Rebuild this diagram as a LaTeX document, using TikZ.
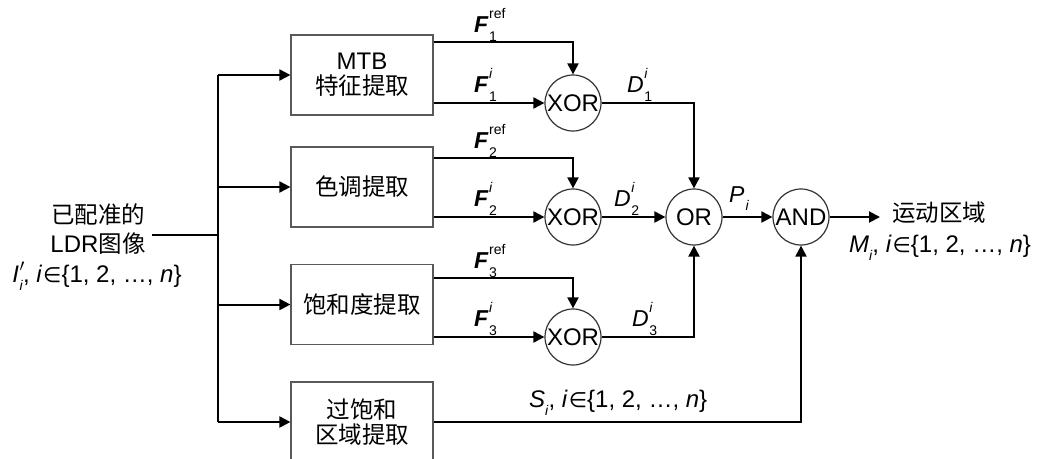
\documentclass[tikz,border=0pt]{standalone}
\usepackage{fontspec}
\setmainfont{Liberation Sans}
\newfontfamily\cjk{Noto Sans CJK SC}
\newfontfamily\sym{DejaVu Sans}
\usetikzlibrary{arrows.meta,calc}
% helpers for the mixed Chinese / formula labels
\newcommand\zh[1]{{\cjk\fontsize{23.5}{26}\selectfont #1}}
\newcommand\scr{\fontsize{14}{14}\selectfont}
\newcommand\lab[3]{#1\kern0.5pt\rlap{\raisebox{0.6em}{\scr #2}}\raisebox{-0.42em}{\scr #3}}
\newcommand\sbi[1]{\raisebox{-0.35em}{\scr\textit{#1}}}
\newcommand\iset{\textit{i}\kern1pt{\sym\fontsize{21}{21}\selectfont ∈}\{1, 2, …, \textit{n}\}}
\newcommand\Fb{\textbf{\textit{F}}}
\begin{document}
\begin{tikzpicture}[x=1pt,y=-1pt,
  txt/.style={inner sep=0pt,font=\fontsize{24}{28}\selectfont},
  lbl/.style={inner sep=0pt,anchor=base west,font=\fontsize{23}{26}\selectfont},
  box/.style={draw=black!65,line width=1.2pt,minimum width=142pt,minimum height=80pt,
              inner sep=0pt,align=center,font=\fontsize{24}{28}\selectfont},
  gate/.style={circle,draw=black!80,line width=1.2pt,minimum size=56pt,inner sep=0pt,
               font=\fontsize{24}{28}\selectfont},
  wire/.style={line width=2pt},
  conn/.style={wire,-{Triangle[length=11pt,width=11pt]}}]
\useasboundingbox (0,0) rectangle (1041,458);

% input images
\node[txt] (t1) at (98,215) {\zh{已配准的}};
\node[txt,anchor=base] (t2) at (98,252) {LDR\zh{图像}};
\node[txt,anchor=base] (t3) at (97,282) {\textit{I}\kern0.5pt\rlap{\raisebox{0.05em}{$'$}}\sbi{i}, \iset};

% extraction stages
\node[box] (b1) at (362,75) {MTB\\[-3pt]\zh{特征提取}};
\node[box] (b2) at (362,187) {\zh{色调提取}};
\node[box] (b3) at (362,304.5) {\zh{饱和度提取}};
\node[box] (b4) at (362,422) {\zh{过饱和}\\[-3pt]\zh{区域提取}};

% logic gates
\node[gate] (x1) at (573,103) {XOR};
\node[gate] (x2) at (573,217) {XOR};
\node[gate] (x3) at (573,337) {XOR};
\node[gate] (or) at (694,217) {OR};
\node[gate] (and) at (801,217) {AND};

% distribution bus
\coordinate (bus) at (218,243);
\coordinate (bt) at (218,75);
\coordinate (bb) at (218,422);
\draw[wire] (t2.east |- bus) ++(6,-8) -- ($(bus)+(0,-8)$);
\draw[wire] (bt) -- (bb);
\foreach \b in {b1,b2,b3,b4}
  \draw[conn] (bt |- \b.west) -- (\b.west);

% reference and current features into the XOR gates
\draw[conn] ($(b1.north east)+(0,8)$) -| (x1);
\draw[conn] ($(b2.north east)+(0,12)$) -| (x2);
\draw[conn] ($(b3.north east)+(0,14)$) -| (x3);
\draw[conn] (b1.east |- x1) -- (x1);
\draw[conn] (b2.east |- x2) -- (x2);
\draw[conn] (b3.east |- x3) -- (x3);

% differences into OR, then AND
\draw[conn] (x1) -| (or);
\draw[conn] (x2) -- (or);
\draw[conn] (x3) -| (or);
\draw[conn] (or) -- (and);
\draw[conn] (b4) -| (and);
\coordinate (out) at (880,217);
\draw[conn] (and) -- (out);

% signal labels
\node[lbl] (f1r) at (474,32) {\lab{\Fb}{ref}{1}};
\node[lbl] (f1i) at (474,92) {\lab{\Fb}{\textit{i}}{1}};
\node[lbl] (f2r) at (474,148) {\lab{\Fb}{ref}{2}};
\node[lbl] (f2i) at (474,206) {\lab{\Fb}{\textit{i}}{2}};
\node[lbl] (f3r) at (474,268) {\lab{\Fb}{ref}{3}};
\node[lbl] (f3i) at (474,326) {\lab{\Fb}{\textit{i}}{3}};
\node[lbl] (d1) at (627,92) {\lab{\textit{D}}{\textit{i}}{1}};
\node[lbl] (d2) at (614,206) {\lab{\textit{D}}{\textit{i}}{2}};
\node[lbl] (d3) at (632,326) {\lab{\textit{D}}{\textit{i}}{3}};
\node[lbl] (pi) at (729,202) {\textit{P}\kern1pt\sbi{i}};
\node[txt,anchor=base west] (si) at (529,407) {\textit{S}\sbi{i}, \iset};

% result
\node[txt,anchor=west] (res) at (892,213) {\zh{运动区域}};
\node[txt,anchor=base] (mi) at (940,252) {\textit{M}\sbi{i}, \iset};
\end{tikzpicture}
\end{document}
